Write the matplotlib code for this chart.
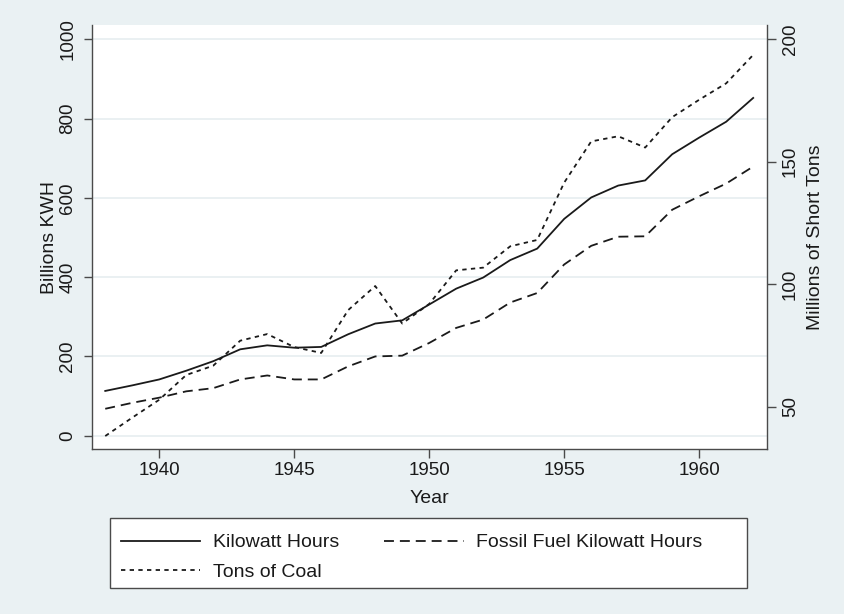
import matplotlib
matplotlib.use("Agg")
import matplotlib.pyplot as plt
from matplotlib.patches import Rectangle

years = list(range(1938, 1963))
kwh = [113, 127, 142, 164, 188, 218, 228, 222, 224, 256, 283, 291, 331,
       371, 399, 443, 472, 547, 601, 631, 644, 710, 752, 792, 852]
fossil_kwh = [68, 83, 96, 112, 120, 142, 152, 142, 142, 175, 200, 202, 234,
              272, 293, 336, 360, 432, 479, 502, 503, 570, 604, 636, 679]
coal_tons = [38.1, 45.6, 52.9, 63.0, 66.8, 77.0, 79.7, 74.4, 72.0, 89.5, 99.3,
             84.0, 92.0, 105.7, 106.8, 115.5, 118.1, 141.5, 158.3, 160.4,
             155.8, 168.2, 175.3, 182.0, 193.6]

left_ticks = [0, 200, 400, 600, 800, 1000]
right_ticks = [50, 100, 150, 200]
x_ticks = [1940, 1945, 1950, 1955, 1960]

plt.rcParams['font.family'] = ['Liberation Sans', 'DejaVu Sans']
bg = '#eaf1f3'
ink = '#1a1a1a'
spine_c = '#4a4a4a'

fig = plt.figure(figsize=(8.44, 6.14), dpi=100, facecolor=bg)
ax = fig.add_axes([0.1087, 0.2687, 0.7997, 0.6906])
ax.set_facecolor('white')
ax2 = ax.twinx()

l1, = ax.plot(years, kwh, color=ink, lw=1.3, ls='-', label='Kilowatt Hours')
l2, = ax.plot(years, fossil_kwh, color=ink, lw=1.3, dashes=(5.5, 3.3),
              label='Fossil Fuel Kilowatt Hours')
l3, = ax2.plot(years, coal_tons, color=ink, lw=1.3, dashes=(2.4, 2.4),
               label='Tons of Coal')

ax.set_xlim(1937.5, 1962.5)
ax.set_ylim(-33.5, 1036)
ax2.set_ylim(32.8, 205.8)
ax.set_xticks(x_ticks)
ax.set_yticks(left_ticks)
ax2.set_yticks(right_ticks)

ax.grid(axis='y', color='#e8eff1', lw=1.3)
ax.set_axisbelow(True)

for a in (ax, ax2):
    a.spines['top'].set_visible(False)
    for s in a.spines.values():
        s.set_color(spine_c)
        s.set_linewidth(1.0)
ax.spines['right'].set_visible(False)
ax2.spines['left'].set_visible(False)
ax2.spines['bottom'].set_visible(False)

ax.tick_params(axis='x', length=6.5, width=1.0, color=spine_c, pad=3,
               labelsize=13.5, labelcolor=ink)
ax.tick_params(axis='y', length=6, width=1.0, color=spine_c, pad=5,
               labelsize=13.5, labelcolor=ink, labelrotation=90)
ax2.tick_params(axis='y', length=6.5, width=1.0, color=spine_c, pad=4.5,
                labelsize=13.5, labelcolor=ink, labelrotation=90)
for lab in ax.get_yticklabels() + ax2.get_yticklabels():
    lab.set_verticalalignment('center')

ax.set_xlabel('Year', fontsize=14, color=ink)
ax.xaxis.set_label_coords(0.5, -0.1163)
ax.xaxis.label.set_verticalalignment('center')
ax.set_ylabel('Billions KWH', fontsize=14, color=ink)
ax.yaxis.set_label_coords(-0.063, 0.5)
ax.yaxis.label.set_verticalalignment('center')
ax2.set_ylabel('Millions of Short Tons', fontsize=14, color=ink, rotation=90)
ax2.yaxis.set_label_coords(1.072, 0.5)
ax2.yaxis.label.set_verticalalignment('center')

fig.patches.append(Rectangle((0.1308, 0.0419), 0.7547, 0.114,
                             transform=fig.transFigure, facecolor='white',
                             edgecolor=spine_c, lw=1.0))
fig.legend([l1, l3, l2], [h.get_label() for h in (l1, l3, l2)],
           loc='upper left', bbox_to_anchor=(0.1434, 0.1306), ncol=2,
           frameon=False, fontsize=14, handlelength=4.07, handletextpad=0.64,
           columnspacing=2.34, labelspacing=0.6, borderpad=0, borderaxespad=0,
           labelcolor=ink)

fig.savefig('out.png', dpi=100, facecolor=bg)
